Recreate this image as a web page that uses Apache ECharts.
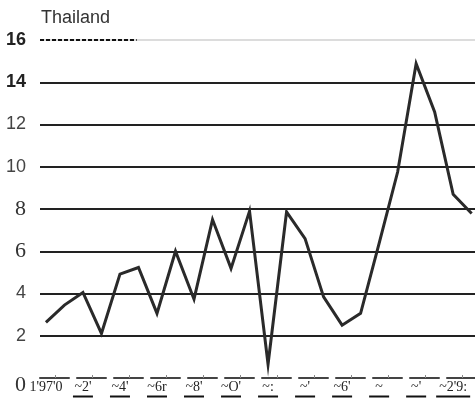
<!DOCTYPE html>
<html>
<head>
<meta charset="utf-8">
<script src="https://cdn.jsdelivr.net/npm/echarts@6/dist/echarts.min.js"></script>
<style>html,body{margin:0;padding:0;background:#fff;}#c{width:475px;height:402px;}</style>
</head>
<body>
<div id="c"></div>
<script>
const titleText = 'Thailand';
const years = [1970,1971,1972,1973,1974,1975,1976,1977,1978,1979,1980,1981,1982,1983,1984,1985,1986,1987,1988,1989,1990,1991,1992,1993];
const values = [2.63,3.45,4.05,2.11,4.92,5.23,3.06,6.0,3.73,7.5,5.19,7.9,0.65,7.86,6.6,3.84,2.5,3.06,6.37,9.75,14.88,12.59,8.7,7.79];
const xTickYears = [1970,1972,1974,1976,1978,1980,1982,1984,1986,1988,1990,1992];
const xTickLabels = ["1'97'0","~2'","~4'","~6r","~8'","~O'","~:","~'","~6'","~","~'","~2'9:"];
const yTickValues = [0,2,4,6,8,10,12,14,16];
const yTickLabels = ['0','2','4','6','8','10','12','14','16'];
const yTickStyles = ['z','s','s','r','r','s','s','b','b'];

const chart = echarts.init(document.getElementById('c'), null, {renderer:'canvas'});
const xMin = 1969.68, xMax = 1993.18;
chart.setOption({
  animation:false,
  title:{text:titleText,left:36,top:4,textStyle:{fontFamily:'Liberation Sans, Arial, sans-serif',fontSize:18,fontWeight:'normal',color:'#333'}},
  grid:{left:40,right:0,top:40,bottom:24,containLabel:false},
  xAxis:{
    type:'value',min:xMin,max:xMax,
    axisLine:{show:true,lineStyle:{color:'#444',width:2,type:[29,8]}},
    axisTick:{show:true,inside:true,length:3,customValues:xTickYears.map(v=>v+0.5),lineStyle:{color:'#888',width:1}},
    splitLine:{show:false},
    axisLabel:{
      customValues:xTickYears,margin:1,
      formatter:function(v){
        const i = xTickYears.indexOf(Math.round(v));
        if(i<0) return '';
        const t = xTickLabels[i];
        if(i===0) return '{t|'+t+'}';
        return '{t|'+t+'}\n{'+(i===xTickYears.length-1?'w':'u')+'| }';
      },
      rich:{
        t:{fontFamily:'Liberation Serif, Times New Roman, serif',fontSize:14,color:'#222',lineHeight:16,align:'center'},
        u:{fontSize:1,width:20,height:2,lineHeight:3,backgroundColor:'#111',align:'center'},
        w:{fontSize:1,width:34,height:2,lineHeight:3,backgroundColor:'#111',align:'center'}
      }
    }
  },
  yAxis:{
    type:'value',min:0,max:16,interval:2,
    axisLine:{show:false},axisTick:{show:false},
    splitLine:{show:true,lineStyle:{width:2,color:['rgba(0,0,0,0)','#222','#222','#222','#222','#222','#222','#222','#dcdcdc']}},
    axisLabel:{
      margin:14,
      formatter:function(v){
        const i = yTickValues.indexOf(v);
        if(i<0) return '';
        return '{'+yTickStyles[i]+'|'+yTickLabels[i]+'}';
      },
      rich:{
        b:{fontFamily:'Liberation Sans, Arial, sans-serif',fontWeight:'bold',fontSize:18,color:'#222'},
        s:{fontFamily:'Liberation Sans, Arial, sans-serif',fontSize:18,color:'#444'},
        r:{fontFamily:'Liberation Serif, Times New Roman, serif',fontSize:22,color:'#333'},
        z:{fontFamily:'Liberation Serif, Times New Roman, serif',fontSize:22,color:'#333',padding:[14,0,0,0]}
      }
    }
  },
  series:[{
    type:'line',
    data:years.map((y,i)=>[y,values[i]]),
    symbol:'none',
    lineStyle:{color:'#2a2a2a',width:3,join:'miter',miterLimit:20},
    markLine:{
      silent:true,symbol:'none',label:{show:false},
      lineStyle:{color:'#111',width:2,type:[4,2]},
      data:[[{coord:[xMin,16]},{coord:[1974.9,16]}]]
    },
    z:5
  }]
});
</script>
</body>
</html>
